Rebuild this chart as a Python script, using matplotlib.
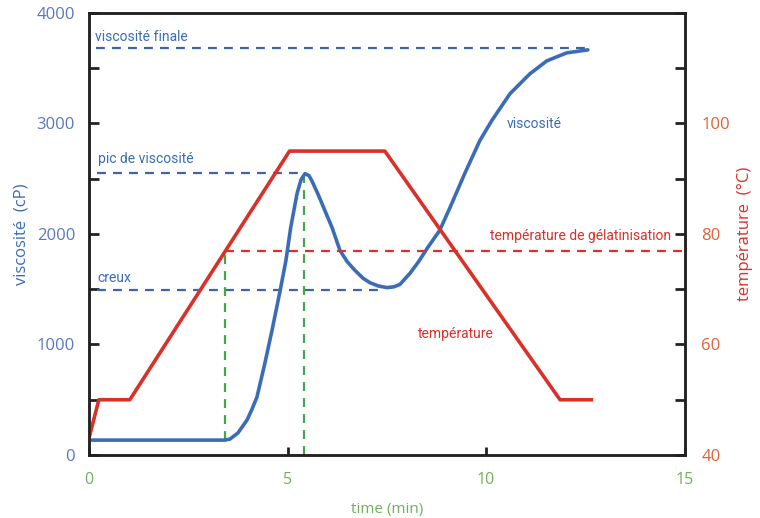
import matplotlib
matplotlib.use("Agg")
import matplotlib.pyplot as plt
from matplotlib.ticker import MultipleLocator

# viscosity curve (min, cP)
visc_t = [0.0, 3.42, 3.55, 3.75, 3.98, 4.10, 4.23, 4.43, 4.61, 4.81, 4.96, 5.08, 5.24,
          5.34, 5.44, 5.54, 5.61, 5.76, 5.85, 5.94, 6.12, 6.32, 6.50, 6.70, 6.90, 7.07,
          7.28, 7.50, 7.68, 7.83, 8.08, 8.30, 8.53, 8.83, 9.09, 9.46, 9.84, 10.14,
          10.60, 11.10, 11.53, 12.03, 12.56]
visc_v = [135, 135, 144, 199, 316, 410, 524, 831, 1129, 1481, 1761, 2059, 2366,
          2492, 2546, 2528, 2483, 2366, 2290, 2212, 2059, 1851, 1750, 1670, 1600, 1560,
          1530, 1515, 1522, 1544, 1643, 1750, 1878, 2032, 2239, 2546, 2844, 3025,
          3269, 3449, 3567, 3639, 3666]

# temperature profile (min, °C)
temp_t = [0.0, 0.25, 1.03, 5.05, 7.45, 11.86, 12.65]
temp_v = [43, 50, 50, 95, 95, 50, 50]

visc_final = 3680
visc_peak = 2555
visc_trough = 1490
t_peak = 5.42
t_gel = 3.42
temp_gel = 77
t_trough_end = 7.45
t_final_end = 12.6

blue = "#3a6db5"
dblue = "#3f62ad"
red = "#d9302a"
green = "#44a647"
tblue = "#5a78bd"
tred = "#e0603a"
tgreen = "#6fb05a"

plt.rcParams['font.family'] = ['Open Sans', 'DejaVu Sans']

fig = plt.figure(figsize=(7.6, 5.18), dpi=100)
ax = fig.add_axes([0.117, 0.1216, 0.784, 0.8534])
ax2 = ax.twinx()

ax.set_xlim(0, 15)
ax.set_ylim(0, 4000)
ax2.set_ylim(40, 120)

dash = (0, (4, 3.2))
# reference lines
ax.plot([0.18, t_final_end], [visc_final, visc_final], ls=dash, color=dblue, lw=1.6)
ax.plot([0.2, t_peak], [visc_peak, visc_peak], ls=dash, color=dblue, lw=1.6)
ax.plot([0.2, t_trough_end], [visc_trough, visc_trough], ls=dash, color=dblue, lw=1.6)
gel_v = (temp_gel - 40) / 80 * 4000
ax.plot([t_gel, t_gel], [135, gel_v], ls=dash, color=green, lw=1.6)
ax.plot([t_peak, t_peak], [0, visc_peak], ls=dash, color=green, lw=1.6)

ax.plot(visc_t, visc_v, color=blue, lw=2.6, solid_capstyle='round',
        solid_joinstyle='round', zorder=3)

ax2.plot([t_gel, 14.95], [temp_gel, temp_gel], ls=dash, color=red, lw=1.6)
ax2.plot(temp_t, temp_v, color=red, lw=2.6, zorder=2)

# ticks
ax.set_xticks([0, 5, 10, 15])
ax.yaxis.set_major_locator(MultipleLocator(1000))
ax.yaxis.set_minor_locator(MultipleLocator(500))
ax2.yaxis.set_minor_locator(MultipleLocator(10))
ax2.set_yticks([40, 60, 80, 100])

ax.tick_params(axis='x', direction='in', length=6, width=2, colors='#222222',
               labelcolor=tgreen, labelsize=11.5, pad=12)
ax.tick_params(axis='y', which='both', direction='in', length=7, width=2, colors='#222222',
               labelcolor=tblue, labelsize=12, pad=10)
ax2.tick_params(axis='y', which='both', direction='in', length=7, width=2, colors='#222222',
                labelcolor=tred, labelsize=12, pad=12)

for a in (ax, ax2):
    for s in a.spines.values():
        s.set_linewidth(1.8)
        s.set_color('#222222')

ax.set_xlabel("time (min)", color=tgreen, fontsize=11, labelpad=10)
ax.set_ylabel("viscosité  (cP)", color=blue, fontsize=12, labelpad=5)
ax2.set_ylabel("température  (°C)", color=red, fontsize=12, labelpad=5)

# annotations
ax.text(0.15, 3750, "viscosité finale", color=blue, fontsize=10, family='Roboto')
ax.text(0.22, 2640, "pic de viscosité", color=blue, fontsize=10, family='Roboto')
ax.text(0.22, 1570, "creux", color=blue, fontsize=10, family='Roboto')
ax.text(10.52, 2960, "viscosité", color=blue, fontsize=10, family='Roboto',
        bbox=dict(facecolor='white', edgecolor='none', pad=0.5))
ax2.text(10.1, 78.9, "température de gélatinisation", color=red, fontsize=10, family='Roboto')
ax2.text(8.28, 61.2, "température", color=red, fontsize=10, family='Roboto',
         bbox=dict(facecolor='white', edgecolor='none', pad=0.5))

fig.savefig("out.png", dpi=100)
